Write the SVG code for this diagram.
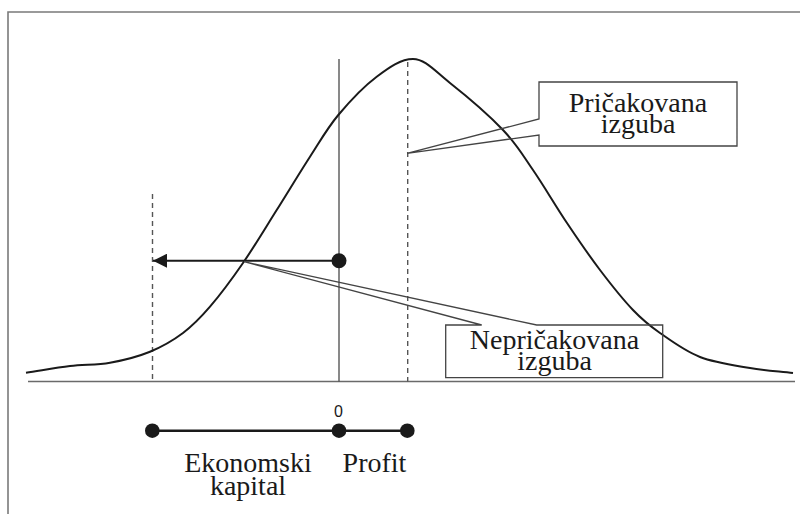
<svg xmlns="http://www.w3.org/2000/svg" width="800" height="514" viewBox="0 0 800 514">
<style>
.frame{fill:none;stroke:#7a7a7a;stroke-width:1.6}
.axis{fill:none;stroke:#6a6a6a;stroke-width:1.5}
.vline{fill:none;stroke:#4a4a4a;stroke-width:1.3}
.dash{fill:none;stroke:#555;stroke-width:1.4;stroke-dasharray:5 4}
.curve{fill:none;stroke:#1a1a1a;stroke-width:2}
.callout{fill:none;stroke:#444;stroke-width:1.3;stroke-linejoin:miter}
.lbl{font-family:"Liberation Serif","Times New Roman",serif;font-size:28px;fill:#1a1a1a;text-anchor:middle}
.zero{font-family:"Liberation Sans",Arial,sans-serif;font-size:16px;fill:#1a1a1a;text-anchor:middle}
.dot{fill:#1a1a1a}
.bar{stroke:#1a1a1a;stroke-width:2.5}
</style>
<defs>
<marker id="ah" markerUnits="userSpaceOnUse" markerWidth="16" markerHeight="14" refX="14" refY="7" orient="auto">
<path d="M0,0 L14,7 L0,14 Z" fill="#1a1a1a"/>
</marker>
</defs>
<g id="frame">
<path class="frame" d="M8,514 L8,12 L800,12"/>
</g>
<g id="axis">
<line class="axis" x1="28" y1="381.5" x2="795" y2="381.5"/>
<line class="vline" x1="339" y1="59" x2="339" y2="381.5"/>
<line class="dash" x1="152.5" y1="194" x2="152.5" y2="381.5"/>
<line class="dash" x1="407.7" y1="62" x2="407.7" y2="381.5"/>
</g>
<g id="distribution">
<path class="curve" d="M26,372.7 C40.7,370.5 56,367.67 70,366 C84,364.33 96.67,365.08 110,362.7 C123.33,360.32 137.830,356.65 150,351.7 C162.17,346.75 173,340.5 183,333 C193,325.5 200,318.37 210,306.7 C220,295.03 231.88,279.12 243,263 C254.12,246.88 265.53,227.72 276.7,210 C287.87,192.28 299.73,172.53 310,156.7 C320.27,140.87 327.18,128.33 338.3,115 C349.42,101.67 364.25,86.03 376.7,76.7 C389.15,67.37 400.8,59 413,59 C425.2,59 435,71.17 450,83 C465,94.83 489.17,115.5 503,130 C516.83,144.5 522.33,154.5 533,170 C543.67,185.5 555.83,206.33 567,223 C578.17,239.67 589,255.5 600,270 C611,284.5 623,299.5 633,310 C643,320.5 648.83,325.17 660,333 C671.17,340.83 685,351.17 700,357 C715,362.83 734.5,365.33 750,368 C765.5,370.67 778.67,371.33 793,373"/>
</g>
<g id="connectors">
<line x1="339" y1="260.7" x2="153" y2="260.7" stroke="#1a1a1a" stroke-width="2" marker-end="url(#ah)"/>
</g>
<g id="start-dot">
<circle class="dot" cx="339" cy="260.7" r="7.5"/>
</g>
<g id="expected-loss">
<polygon class="callout" points="539,82 737,82 737,146 539,146 539,135 407,153.3 539,119"/>
<text class="lbl" x="638" y="111.5">Pričakovana</text>
<text class="lbl" x="638" y="133">izguba</text>
</g>
<g id="unexpected-loss">
<polygon class="callout" points="445.7,325 481.7,325 244,261.7 536.7,325 662.7,325 662.7,377.7 445.7,377.7"/>
<text class="lbl" x="554.5" y="349">Nepričakovana</text>
<text class="lbl" x="554.5" y="369.5">izguba</text>
</g>
<g id="scale">
<line class="bar" x1="152.3" y1="430.7" x2="407.3" y2="430.7"/>
<circle class="dot" cx="152.3" cy="430.7" r="7.3"/>
<circle class="dot" cx="339" cy="430.7" r="7.3"/>
<circle class="dot" cx="407.3" cy="430.7" r="7.3"/>
<text class="zero" x="338.5" y="417">0</text>
</g>
<g id="economic-capital">
<text class="lbl" x="248" y="471.5">Ekonomski</text>
<text class="lbl" x="248" y="495">kapital</text>
</g>
<g id="profit">
<text class="lbl" x="374.5" y="471.5">Profit</text>
</g>
</svg>
